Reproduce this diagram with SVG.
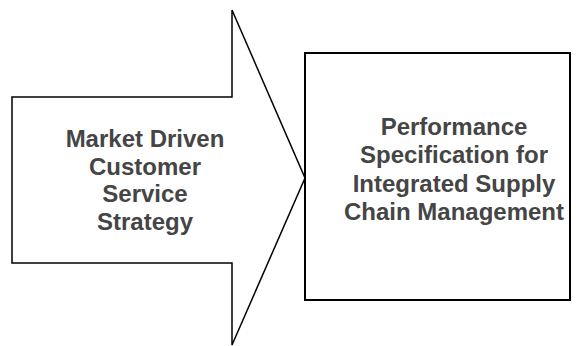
<svg xmlns="http://www.w3.org/2000/svg" width="582" height="346" viewBox="0 0 582 346">
  <style>
    .label { font-family: "Liberation Sans", Arial, sans-serif; font-weight: bold; font-size: 24px; fill: #454545; text-anchor: middle; }
    .arrow { fill: #ffffff; stroke: #000000; stroke-width: 1.5; stroke-linejoin: miter; }
    .box { fill: #ffffff; stroke: #000000; stroke-width: 2; }
  </style>
  <rect width="582" height="346" fill="#ffffff"/>
  <g id="strategy">
    <path class="arrow" d="M12 97 H232 V10 L305 178 L232 345 V263 H12 Z"/>
    <text class="label" x="145" y="147">Market Driven</text>
    <text class="label" x="145" y="174.5">Customer</text>
    <text class="label" x="145" y="202">Service</text>
    <text class="label" x="145" y="229.5">Strategy</text>
  </g>
  <g id="performance">
    <rect class="box" x="305" y="53" width="265" height="247"/>
    <text class="label" x="454" y="135">Performance</text>
    <text class="label" x="454" y="163.3">Specification for</text>
    <text class="label" x="454" y="191.7">Integrated Supply</text>
    <text class="label" x="454" y="220">Chain Management</text>
  </g>
  <g id="connectors"></g>
</svg>
